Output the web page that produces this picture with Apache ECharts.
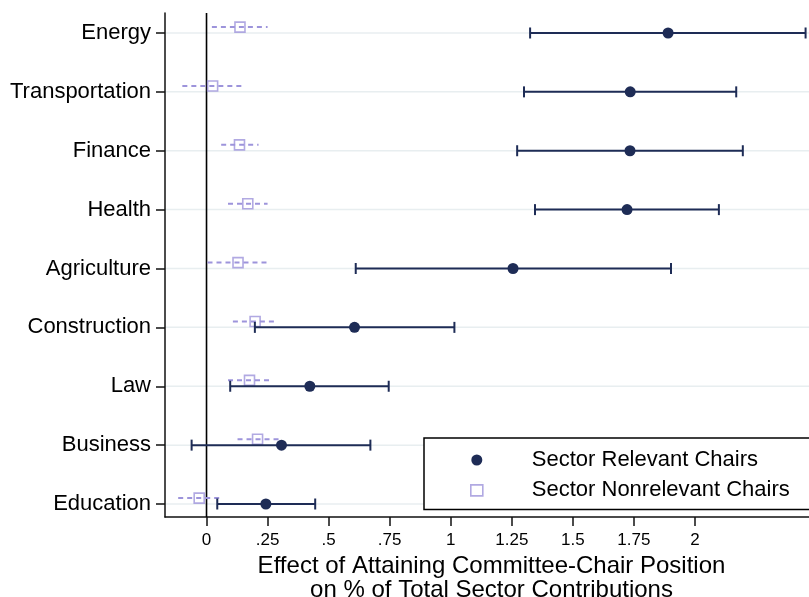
<!DOCTYPE html>
<html>
<head>
<meta charset="utf-8">
<script src="https://cdn.jsdelivr.net/npm/echarts@6/dist/echarts.min.js"></script>
<style>
html,body{margin:0;padding:0;background:#fff;}
#chart{width:809px;height:597px;}
</style>
</head>
<body>
<div id="chart"></div>
<script>
// ---- data ----
const categories = ['Energy','Transportation','Finance','Health','Agriculture','Construction','Law','Business','Education'];
const relevantEst = [1.890, 1.735, 1.734, 1.722, 1.255, 0.606, 0.423, 0.307, 0.243];
const relevantLo  = [1.325, 1.300, 1.272, 1.345, 0.611, 0.198, 0.097, -0.061, 0.044];
const relevantHi  = [2.453, 2.169, 2.196, 2.098, 1.902, 1.015, 0.746, 0.671, 0.445];
const nonrelEst   = [0.137, 0.025, 0.135, 0.169, 0.129, 0.199, 0.176, 0.209, -0.030];
const nonrelLo    = [0.022, -0.099, 0.060, 0.088, 0.004, 0.108, 0.088, 0.127, -0.116];
const nonrelHi    = [0.250, 0.149, 0.213, 0.250, 0.250, 0.288, 0.264, 0.299, 0.056];
const xTicks = [0, 0.25, 0.5, 0.75, 1, 1.25, 1.5, 1.75, 2];
const xTickLabels = ['0', '.25', '.5', '.75', '1', '1.25', '1.5', '1.75', '2'];
const referenceLineX = [0];
const seriesNames = ['Sector Relevant Chairs', 'Sector Nonrelevant Chairs'];
const xTitle = 'Effect of Attaining Committee-Chair Position\non % of Total Sector Contributions';

// ---- styling / layout ----
const NAVY = '#1e2c56';
const LAVENDER = '#9d94db';
const FONT = 'Liberation Sans, Arial, Helvetica, sans-serif';
const NONREL_SHIFT = 0.1;
const n = categories.length;
const yOf = i => n - 1 - i;
const yTicks = categories.map((c, i) => yOf(i));

function errorSeries(lo, hi, shift, style, caps, z) {
  return {
    type: 'custom',
    z: z,
    silent: true,
    data: categories.map((c, i) => [lo[i], hi[i], yOf(i) + shift]),
    encode: { x: [0, 1], y: 2 },
    renderItem: function (params, api) {
      const p1 = api.coord([api.value(0), api.value(2)]);
      const p2 = api.coord([api.value(1), api.value(2)]);
      const children = [{
        type: 'line',
        shape: { x1: p1[0], y1: p1[1], x2: p2[0], y2: p2[1] },
        style: style
      }];
      if (caps) {
        [p1, p2].forEach(p => children.push({
          type: 'line',
          shape: { x1: p[0], y1: p[1] - 5.5, x2: p[0], y2: p[1] + 5.5 },
          style: style
        }));
      }
      return { type: 'group', children: children };
    }
  };
}

const chart = echarts.init(document.getElementById('chart'), null, { renderer: 'canvas' });
chart.setOption({
  animation: false,
  backgroundColor: '#fff',
  textStyle: { fontFamily: FONT },
  grid: { left: 165, right: 0, top: 13, bottom: 80, containLabel: false, outerBoundsMode: 'none' },
  xAxis: {
    type: 'value',
    min: -0.170,
    max: 2.467,
    axisLine: { show: true, onZero: false, lineStyle: { color: '#111', width: 1.5 } },
    axisTick: { show: true, length: 9, customValues: xTicks, lineStyle: { color: '#111', width: 1.5 } },
    axisLabel: {
      customValues: xTicks,
      formatter: v => xTickLabels[xTicks.indexOf(v)],
      fontSize: 17, color: '#000', margin: 15, fontFamily: FONT
    },
    splitLine: { show: false },
    name: xTitle,
    nameLocation: 'middle',
    nameGap: 32,
    nameTextStyle: { fontSize: 24, lineHeight: 24.5, color: '#000', fontFamily: FONT, padding: [0, 0, 0, 9] }
  },
  yAxis: {
    type: 'value',
    min: -0.2207,
    max: 8.3395,
    axisLine: { show: true, onZero: false, lineStyle: { color: '#111', width: 1.5 } },
    axisTick: { show: true, length: 9, customValues: yTicks, lineStyle: { color: '#111', width: 1.5 } },
    axisLabel: {
      customValues: yTicks,
      formatter: v => categories[n - 1 - Math.round(v)],
      fontSize: 22, color: '#000', margin: 14, fontFamily: FONT
    },
    splitLine: { show: false }
  },
  legend: {
    orient: 'vertical',
    left: 424,
    top: 438,
    padding: [11, 60, 8, 46],
    itemWidth: 12,
    itemHeight: 11,
    itemGap: 8.4,
    backgroundColor: '#fff',
    borderColor: '#000',
    borderWidth: 1.5,
    borderRadius: 0,
    textStyle: { fontSize: 22, lineHeight: 22, color: '#000', fontFamily: FONT, padding: [0, 0, 0, 44] },
    data: [
      { name: seriesNames[0], icon: 'circle' },
      { name: seriesNames[1], icon: 'rect', itemStyle: { color: 'rgba(255,255,255,0)', borderColor: LAVENDER, borderWidth: 1.6 } }
    ]
  },
  series: [
    {
      // horizontal grid lines at each category
      type: 'custom',
      z: 0,
      silent: true,
      data: yTicks.map(v => [v]),
      encode: { y: 0 },
      renderItem: function (params, api) {
        const cs = params.coordSys;
        const y = api.coord([0, api.value(0)])[1];
        return {
          type: 'line',
          shape: { x1: cs.x, y1: y, x2: cs.x + cs.width, y2: y },
          style: { stroke: '#e8eef0', lineWidth: 1.5 }
        };
      }
    },
    {
      // vertical reference line at x = 0
      type: 'custom',
      z: 1,
      silent: true,
      data: referenceLineX.map(v => [v]),
      encode: { x: 0 },
      renderItem: function (params, api) {
        const cs = params.coordSys;
        const x = api.coord([api.value(0), 0])[0];
        return {
          type: 'line',
          shape: { x1: x, y1: cs.y, x2: x, y2: cs.y + cs.height },
          style: { stroke: '#000', lineWidth: 1.6 }
        };
      }
    },
    errorSeries(nonrelLo, nonrelHi, NONREL_SHIFT, { stroke: LAVENDER, lineWidth: 2, lineDash: [5, 4] }, false, 2),
    {
      name: seriesNames[1],
      type: 'scatter',
      z: 3,
      symbol: 'rect',
      symbolSize: 10,
      itemStyle: { color: 'rgba(255,255,255,0)', borderColor: LAVENDER, borderWidth: 1.6 },
      data: categories.map((c, i) => [nonrelEst[i], yOf(i) + NONREL_SHIFT])
    },
    errorSeries(relevantLo, relevantHi, 0, { stroke: NAVY, lineWidth: 2 }, true, 4),
    {
      name: seriesNames[0],
      type: 'scatter',
      z: 5,
      symbol: 'circle',
      symbolSize: 11,
      itemStyle: { color: NAVY, opacity: 1 },
      data: categories.map((c, i) => [relevantEst[i], yOf(i)])
    }
  ]
});
</script>
</body>
</html>
